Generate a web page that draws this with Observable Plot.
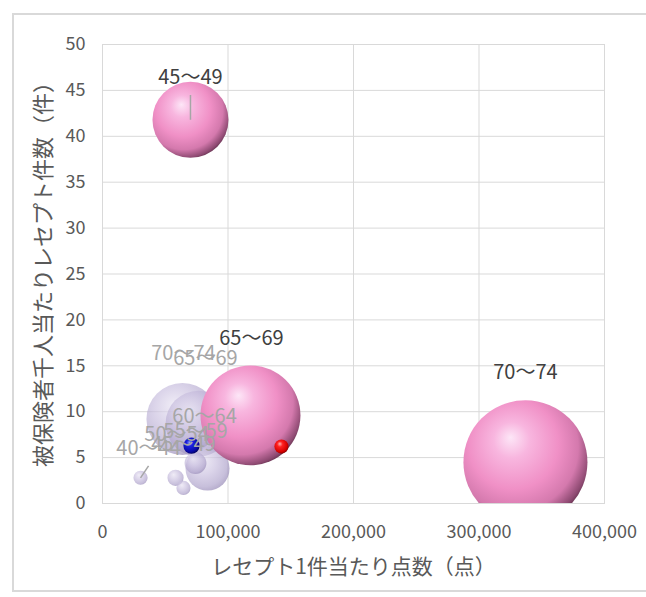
<!DOCTYPE html>
<html>
<head>
<meta charset="utf-8">
<script src="https://cdn.jsdelivr.net/npm/d3@7"></script>
<script src="https://cdn.jsdelivr.net/npm/@observablehq/plot@0.6"></script>
<style>
  html, body { margin: 0; padding: 0; background: #fff; }
  #wrap { position: relative; width: 646px; height: 597px; overflow: hidden; }
  #border { position: absolute; left: 12px; top: 13px; width: 660px; height: 579px; border: 2px solid #d9d9d9; box-sizing: border-box; }
  #chart { position: absolute; left: 0; top: 0; }
</style>
</head>
<body>
<div id="wrap"><div id="border"></div><div id="chart"></div></div>
<script>
// Age groups
const ages = ["40～44", "45～49", "50～54", "55～59", "60～64", "65～69", "70～74"];

// Series A (lavender, translucent): points per receipt, receipts per 1000 insured, bubble size
const lavX    = [30300, 64500, 58200, 74100, 83700, 76500, 63700];
const lavY    = [2.8, 1.7, 2.8, 4.4, 3.8, 8.7, 9.2];
const lavSize = [1.3, 1.3, 1.7, 3.1, 12.6, 28.3, 33.7];
const lavLabelX = [36700, 64500, 59000, 74100, 81300, 82000, 64500];
const lavLabelY = [6.0, 6.4, 7.5, 7.8, 9.5, 15.8, 16.3];

// Series B (pink spheres)
const pinkAges = ["45～49", "65～69", "70～74"];
const pinkX    = [70100, 117900, 337000];
const pinkY    = [41.8, 9.6, 4.5];
const pinkSize = [37.6, 65.0, 100];
const pinkLabelX = [70100, 118700, 337000];
const pinkLabelY = [46.4, 18.0, 14.3];

// Reference points
const blueX = [70900], blueY = [6.3], blueSize = [1.7];
const redX  = [142600], redY = [6.2], redSize = [1.3];

// Axis ticks and titles
const xTicks = [0, 100000, 200000, 300000, 400000];
const yTicks = [0, 5, 10, 15, 20, 25, 30, 35, 40, 45, 50];
const xTitle = "レセプト1件当たり点数（点）";
const yTitle = "被保険者千人当たりレセプト件数（件）";

const lav = ages.map((a, i) => ({age: a, x: lavX[i], y: lavY[i], size: lavSize[i], lx: lavLabelX[i], ly: lavLabelY[i]}))
  .sort((a, b) => b.size - a.size);
const pink = pinkAges.map((a, i) => ({age: a, x: pinkX[i], y: pinkY[i], size: pinkSize[i], lx: pinkLabelX[i], ly: pinkLabelY[i]}));
const blue = blueX.map((x, i) => ({x, y: blueY[i], size: blueSize[i]}));
const red = redX.map((x, i) => ({x, y: redY[i], size: redSize[i]}));

// leader lines for moved labels
const leaders = [
  ...pink.filter(d => d.age === "45～49"),
  ...lav.filter(d => d.age === "40～44")
].map(d => ({x1: d.lx, y1: d.ly - 1.9, x2: d.x, y2: d.y}));

const FONT = "'Noto Sans CJK JP', 'Noto Sans', sans-serif";

const svg = Plot.plot({
  width: 646,
  height: 597,
  marginLeft: 102,
  marginRight: 42,
  marginTop: 44,
  marginBottom: 94,
  style: {fontFamily: FONT, background: "transparent", overflow: "visible"},
  x: {domain: [0, 400000]},
  y: {domain: [0, 50]},
  r: {domain: [0, 100], range: [0, 62]},
  marks: [
    Plot.gridX(xTicks, {stroke: "#d9d9d9", strokeOpacity: 1, strokeWidth: 1}),
    Plot.gridY(yTicks, {stroke: "#d9d9d9", strokeOpacity: 1, strokeWidth: 1}),
    Plot.frame({stroke: "#d9d9d9", strokeWidth: 1}),
    Plot.axisX(xTicks, {
      tickFormat: d3.format(","), tickSize: 0, tickPadding: 22, fontSize: 18, fill: "#595959", label: null
    }),
    Plot.axisY(yTicks, {
      tickSize: 0, tickPadding: 17, fontSize: 18, fill: "#595959", label: null
    }),
    Plot.text([xTitle], {frameAnchor: "bottom", lineAnchor: "middle", textAnchor: "middle", dy: 64, text: d => d, fontSize: 21, fill: "#595959", fontFamily: FONT}),
    Plot.text([yTitle], {frameAnchor: "left", textAnchor: "middle", lineAnchor: "middle", dx: -59, dy: -5, rotate: -90, text: d => d, fontSize: 22, fill: "#595959", fontFamily: FONT}),
    Plot.dot(lav, {x: "x", y: "y", r: "size", fill: "url(#gLav)", fillOpacity: 0.68, stroke: "none", clip: true}),
    Plot.dot(blue, {x: "x", y: "y", r: "size", fill: "url(#gBlue)", stroke: "none"}),
    Plot.dot(pink, {x: "x", y: "y", r: "size", fill: "url(#gPink)", stroke: "none", clip: true}),
    Plot.dot(red, {x: "x", y: "y", r: "size", fill: "url(#gRed)", stroke: "none"}),
    Plot.link(leaders, {x1: "x1", y1: "y1", x2: "x2", y2: "y2", stroke: "#a6a6a6", strokeWidth: 1.5}),
    Plot.text(lav, {x: "lx", y: "ly", text: "age", fill: "#a6a6a6", fontSize: 20, fontFamily: FONT}),
    Plot.text(pink, {x: "lx", y: "ly", text: "age", fill: "#404040", fontSize: 20, fontFamily: FONT})
  ]
});

// sphere-like gradients
const defs = d3.select(svg).insert("defs", ":first-child");
function grad(id, stops, fx, fy) {
  const g = defs.append("radialGradient").attr("id", id)
    .attr("cx", 0.42).attr("cy", 0.4).attr("r", 0.66).attr("fx", fx).attr("fy", fy);
  stops.forEach(([o, c]) => g.append("stop").attr("offset", o).attr("stop-color", c));
}
grad("gPink", [[0, "#fde6f7"], [0.22, "#f8b6df"], [0.55, "#f090c6"], [0.78, "#d479ad"], [0.92, "#8e4a72"], [1, "#4a2438"]], 0.38, 0.3);
grad("gLav", [[0, "#e8e3f2"], [0.45, "#c9bfdf"], [0.8, "#ada1ca"], [1, "#8c7eae"]], 0.38, 0.3);
grad("gBlue", [[0, "#8f9cff"], [0.3, "#1c22e0"], [0.75, "#0a0aa8"], [1, "#00004d"]], 0.38, 0.3);
grad("gRed", [[0, "#ffb0b0"], [0.3, "#ff2020"], [0.75, "#d80000"], [1, "#700000"]], 0.38, 0.3);

document.getElementById("chart").appendChild(svg);
</script>
</body>
</html>
